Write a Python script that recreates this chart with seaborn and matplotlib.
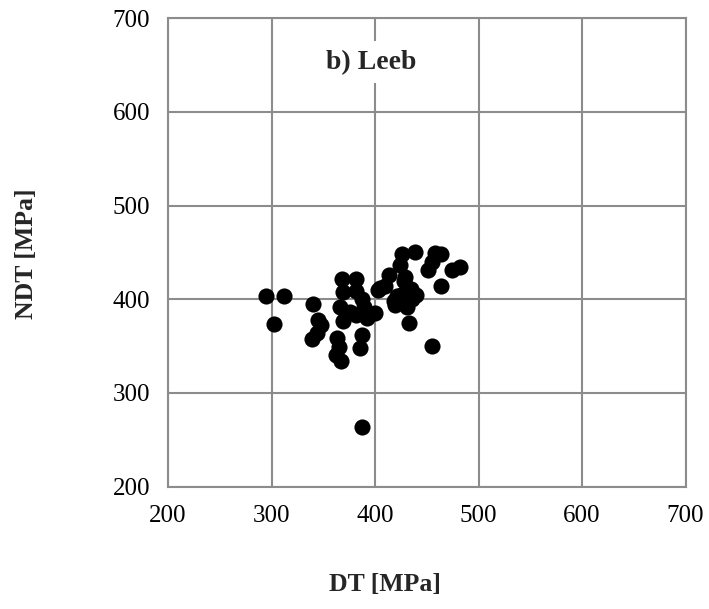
import numpy as np
import pandas as pd
import matplotlib
matplotlib.use("Agg")
import matplotlib.pyplot as plt
import seaborn as sns

# ---------- data ----------
dt = [295, 312, 302, 340, 345, 348, 339, 344, 363, 365, 362, 367,
      368, 382, 369, 366, 369, 382, 387, 389, 382, 387, 385, 400,
      403, 387, 426, 439, 458, 464, 455, 451, 424, 413, 405, 429,
      435, 440, 421, 419, 431, 433, 455, 464, 474, 482, 410, 418,
      428, 376, 392, 436, 425]
ndt = [403, 404, 374, 395, 378, 372, 358, 364, 359, 349, 341, 334,
       422, 422, 408, 392, 377, 409, 400, 392, 383, 362, 348, 385,
       410, 264, 448, 450, 449, 448, 440, 431, 437, 426, 412, 424,
       411, 405, 403, 394, 392, 375, 350, 414, 431, 434, 414, 398,
       420, 386, 380, 400, 405]

df = pd.DataFrame({"DT": dt, "NDT": ndt})

# ---------- plot ----------
sns.set_style("white")
plt.rcParams["font.family"] = ["Liberation Serif", "DejaVu Serif"]

fig = plt.figure(figsize=(7.09, 6.09), dpi=100)
ax = fig.add_axes([0.237, 0.201, 0.730, 0.769])

grid_c = "#8c8c8c"
sns.scatterplot(data=df, x="DT", y="NDT", ax=ax, color="black",
                s=135, edgecolor="black", linewidth=0, zorder=3, legend=False)

ax.set_xlim(200, 700)
ax.set_ylim(200, 700)
ax.set_xticks(range(200, 701, 100))
ax.set_yticks(range(200, 701, 100))
ax.grid(True, color=grid_c, linewidth=1.5)
ax.set_axisbelow(True)
for side, sp in ax.spines.items():
    sp.set_color(grid_c)
    sp.set_linewidth(1.5)
ax.tick_params(axis="both", direction="out", length=6, width=1.5,
               color=grid_c, labelsize=18, labelcolor="black")
ax.tick_params(axis="y", pad=7)
ax.tick_params(axis="x", pad=7)
ax.set_xlabel("")
ax.set_ylabel("")

ax.text(396, 653, "b) Leeb", ha="center", va="center", fontsize=20,
        fontweight="bold", zorder=4,
        bbox=dict(boxstyle="square,pad=0.3", fc="white", ec="none"))

fig.text(385 / 709, 1 - 585 / 609, "DT [MPa]", ha="center", va="center",
         fontsize=18.5, fontweight="bold")
fig.text(27 / 709, 1 - 254 / 609, "NDT [MPa]", ha="center", va="center",
         fontsize=18.5, fontweight="bold", rotation=90)

fig.savefig("out.png", dpi=100, facecolor="white")
plt.close(fig)
